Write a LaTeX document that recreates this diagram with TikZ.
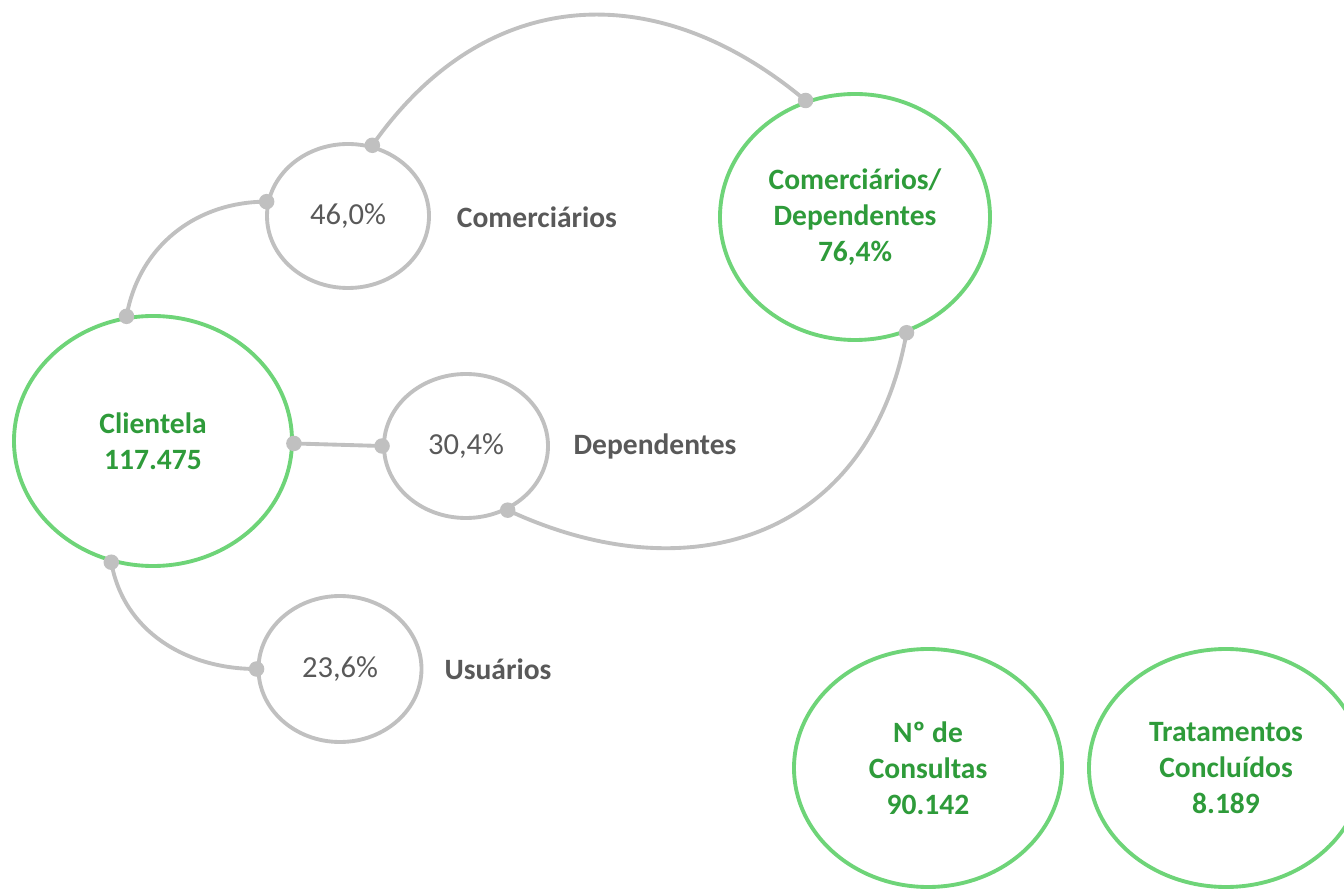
\documentclass[tikz,border=0pt]{standalone}
\usepackage{fontspec}
\setmainfont{Carlito}
\usepackage{tikz}
\usetikzlibrary{shapes.geometric}

\definecolor{ringgreen}{RGB}{110,212,120}
\definecolor{textgreen}{RGB}{46,155,58}
\definecolor{linegray}{RGB}{192,192,192}
\definecolor{labelgray}{RGB}{89,89,89}

\begin{document}
\begin{tikzpicture}[
  total/.style={ellipse,draw=ringgreen,line width=2.2pt,inner sep=0pt,align=center,text=textgreen,font=\fontsize{16.8}{20.5}\selectfont\bfseries},
  share/.style={ellipse,draw=linegray,line width=2.2pt,inner sep=0pt,minimum width=3.24cm,minimum height=2.88cm,text=labelgray,font=\fontsize{17.4}{20.5}\selectfont},
  tag/.style={text=labelgray,font=\fontsize{16.8}{20.5}\selectfont\bfseries},
  link/.style={draw=linegray,line width=2.2pt},
  dot/.style={fill=linegray}
]
\useasboundingbox (0,0) rectangle (26.88,17.78);
\clip (0,0) rectangle (26.88,17.78);
% main totals
\node[total,minimum width=5.56cm,minimum height=5.0cm] (cli) at (3.06,8.96) {Clientela\\117.475};
\node[total,minimum width=5.4cm,minimum height=4.92cm] (comdep) at (17.10,13.44) {Comerciários/\\Dependentes\\76,4\%};
\node[total,minimum width=5.36cm,minimum height=4.76cm] (cons) at (18.56,2.42) {Nº de\\Consultas\\90.142};
\node[total,minimum width=5.48cm,minimum height=4.76cm] (trat) at (24.52,2.42) {Tratamentos\\Concluídos\\8.189};
% shares
\node[share] (com) at (6.96,13.46) {46,0\%};
\node[share,minimum width=3.28cm] (dep) at (9.32,8.86) {30,4\%};
\node[share,minimum width=3.26cm,minimum height=2.92cm] (usu) at (6.80,4.40) {23,6\%};
\node[tag] (comtag) at (10.74,13.44) {Comerciários};
\node[tag] (deptag) at (13.10,8.86) {Dependentes};
\node[tag] (usutag) at (9.96,4.40) {Usuários};
% connectors
\draw[link] (cli.102) to[out=80,in=180] (com.170);
\draw[link] (com.71) to[out=55,in=140,looseness=1.15] (comdep.113);
\draw[link] (cli.359) -- (dep.180);
\draw[link] (dep.303) to[out=-25,in=260,looseness=1.2] (comdep.294);
\draw[link] (cli.251) to[out=280,in=180] (usu.180);
% dots
\foreach \pt in {cli.102,com.170,com.71,comdep.113,cli.359,dep.180,dep.303,comdep.294,cli.251,usu.180}
  \fill[dot] (\pt) circle (0.155);
\end{tikzpicture}
\end{document}
